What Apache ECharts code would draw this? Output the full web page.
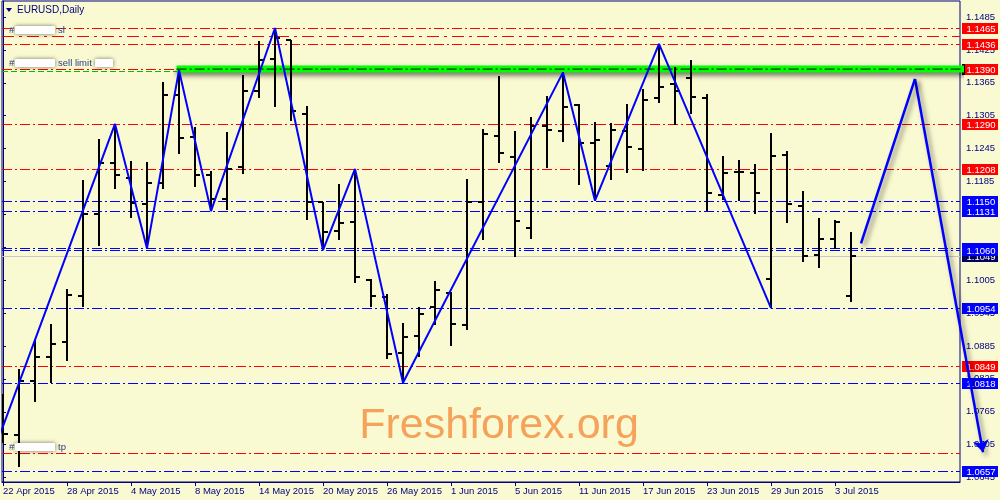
<!DOCTYPE html>
<html><head><meta charset="utf-8">
<script src="https://cdn.jsdelivr.net/npm/echarts@6/dist/echarts.min.js"></script>
<style>html,body{margin:0;padding:0;background:#fafad2}#c{width:1000px;height:500px}</style>
</head><body><div id="c"></div>
<script>
// ---------------- data ----------------
const dates = ['22 Apr 2015','23 Apr 2015','24 Apr 2015','27 Apr 2015','28 Apr 2015','29 Apr 2015','30 Apr 2015',
'1 May 2015','4 May 2015','5 May 2015','6 May 2015','7 May 2015','8 May 2015','11 May 2015','12 May 2015','13 May 2015',
'14 May 2015','15 May 2015','18 May 2015','19 May 2015','20 May 2015','21 May 2015','22 May 2015','25 May 2015','26 May 2015',
'27 May 2015','28 May 2015','29 May 2015','1 Jun 2015','2 Jun 2015','3 Jun 2015','4 Jun 2015','5 Jun 2015','8 Jun 2015',
'9 Jun 2015','10 Jun 2015','11 Jun 2015','12 Jun 2015','15 Jun 2015','16 Jun 2015','17 Jun 2015','18 Jun 2015','19 Jun 2015',
'22 Jun 2015','23 Jun 2015','24 Jun 2015','25 Jun 2015','26 Jun 2015','29 Jun 2015','30 Jun 2015','1 Jul 2015','2 Jul 2015',
'3 Jul 2015','6 Jul 2015'];
const open = [1.0735,1.07232,1.08213,1.08642,1.08914,1.09763,1.11265,1.12185,1.11912,1.11434,1.11828,1.13427,1.12657,1.11961,
1.11525,1.12112,1.13505,1.14092,1.14438,1.13088,1.11476,1.10938,1.11113,1.10053,1.0975,1.08722,1.09041,1.09557,1.09812,1.09241,
1.11476,1.12688,1.12294,1.11004,1.1287,1.12779,1.13246,1.12548,1.12125,1.12779,1.12434,1.13366,1.13627,1.13729,1.13366,1.11598,
1.12021,1.12003,1.10072,1.12325,1.11403,1.10508,1.10804,1.09763];
const high = [1.07982,1.08436,1.08976,1.09254,1.0989,1.1187,1.12628,1.1290,1.12215,1.12203,1.13669,1.1388,1.12851,1.12034,
1.12748,1.13796,1.14414,1.1465,1.14438,1.13228,1.11476,1.11798,1.1208,1.10066,1.09799,1.09267,1.09557,1.10035,1.09841,1.11901,
1.1281,1.13778,1.12779,1.13033,1.13415,1.1384,1.13264,1.12942,1.12919,1.13264,1.13536,1.1436,1.13942,1.14063,1.13446,1.12319,
1.12246,1.12174,1.12737,1.12415,1.11676,1.11193,1.11156,1.1092];
const low = [1.07074,1.06638,1.07831,1.08177,1.08569,1.09563,1.10677,1.1172,1.11193,1.1063,1.1172,1.12355,1.11749,1.1131,
1.11325,1.11992,1.13373,1.13202,1.1296,1.11156,1.1060,1.1078,1.09993,1.09557,1.08613,1.0818,1.08649,1.09236,1.08841,1.09145,
1.1078,1.12185,1.10466,1.10804,1.12094,1.12566,1.11792,1.1150,1.1187,1.1201,1.12034,1.13282,1.12882,1.13082,1.11313,1.1152,
1.11494,1.11265,1.0954,1.11084,1.10386,1.10277,1.10611,1.09659];
const close = [1.07243,1.08213,1.08642,1.08891,1.09781,1.11265,1.12185,1.11961,1.11458,1.11821,1.13427,1.12639,1.11961,1.11525,
1.12083,1.13505,1.14063,1.14474,1.13129,1.11476,1.1092,1.11084,1.10113,1.09768,1.08703,1.09005,1.09441,1.09872,1.09254,1.11476,
1.12719,1.12366,1.11131,1.1287,1.12797,1.13202,1.12548,1.12615,1.12797,1.12475,1.13337,1.13565,1.13493,1.13384,1.1164,1.12003,
1.12015,1.1164,1.12306,1.11434,1.10489,1.10804,1.11107,1.1049];

const priceTicks = [1.1485,1.1425,1.1365,1.1305,1.1245,1.1185,1.1125,1.1065,1.1005,1.0945,1.0885,1.0825,1.0765,1.0705,1.0645];
const dateTickIdx = [0,4,8,12,16,20,24,28,32,36,40,44,48,52];

const zigzagIdx   = [-1, 7, 9, 11, 13, 17, 20, 22, 25, 35, 37, 41, 48];
const zigzagPrice = [1.0660, 1.1290, 1.1063, 1.1388, 1.1131, 1.1465, 1.1060, 1.1208, 1.0818, 1.1384, 1.1150, 1.1436, 1.0954];

const forecastUpIdx = [53.625, 57];
const forecastUpPrice = [1.1072, 1.1372];
const forecastDownIdx = [57, 61.25];
const forecastDownPrice = [1.1372, 1.0691];

const redLevels  = [1.1465, 1.1436, 1.1290, 1.1208, 1.0849];
const blueLevels = [1.1150, 1.1131, 1.1063, 1.1060, 1.0954, 1.0818, 1.0657];
const slLevel = 1.1450;
const tpLevel = 1.0690;
const sellLimitLevel = 1.1390;
const bandStartIdx = 10.85;
const bidPrice = close[close.length - 1];

// ---------------- chart ----------------
const FONT = 'Liberation Sans';
const NAVY = '#000080';
const DASHDOT = [10, 3, 2, 3];
const FS = 9.5;
const chart = echarts.init(document.getElementById('c'));

// level table built from the arrays above
const levelDefs = [];
levelDefs.push({v: bidPrice, color: '#c8c8c8', dash: null, box: '#000060'});
levelDefs.push({v: sellLimitLevel - 0.00027, color: '#00c000', dash: [6, 3], box: null});
levelDefs.push({v: slLevel, color: '#ff0000', dash: [12, 5, 3, 5], box: null});
levelDefs.push({v: tpLevel, color: '#ff0000', dash: DASHDOT, box: null});
redLevels.forEach(v => levelDefs.push({v: v, color: '#ff0000', dash: DASHDOT, box: '#ff0000'}));
blueLevels.forEach(v => levelDefs.push({v: v, color: '#0000ff', dash: DASHDOT, box: '#0000ff'}));
levelDefs.push({v: sellLimitLevel, color: '#ff0000', dash: DASHDOT, box: '#ff0000', marker: '#000000'});

function renderLevel(params, api) {
  const d = levelDefs[params.dataIndex];
  const cs = params.coordSys;
  const yc = api.coord([0, api.value(1)])[1];
  const y = Math.round(yc) + 0.5;
  const children = [{type: 'line', shape: {x1: cs.x, y1: y, x2: cs.x + cs.width, y2: y},
    style: {stroke: d.color, lineWidth: 1, lineDash: d.dash || null}}];
  if (d.box) {
    const bx = cs.x + cs.width + 2, by = Math.round(yc) - 5;
    if (d.marker) {
      children.push({type: 'rect', shape: {x: bx, y: by, width: 3, height: 11}, style: {fill: d.marker}});
      children.push({type: 'rect', shape: {x: bx + 3, y: by, width: 33, height: 11}, style: {fill: d.box}});
    } else {
      children.push({type: 'rect', shape: {x: bx, y: by, width: 36, height: 11}, style: {fill: d.box}});
    }
    children.push({type: 'text', x: bx + 19, y: by + 6,
      style: {text: api.value(1).toFixed(4), fill: '#ffffff', font: FS + 'px ' + FONT, align: 'center', verticalAlign: 'middle'}});
  }
  return {type: 'group', children: children};
}

const option = {
  animation: false,
  backgroundColor: '#fafad2',
  grid: {left: 2, right: 40, top: 1, bottom: 18, show: true, borderColor: NAVY, borderWidth: 1, backgroundColor: 'transparent'},
  xAxis: {
    type: 'value', min: -0.0625, max: 59.8125, position: 'bottom',
    axisLine: {show: true, lineStyle: {color: NAVY, width: 1}},
    splitLine: {show: false},
    axisTick: {show: true, customValues: dateTickIdx, length: 4, lineStyle: {color: NAVY}},
    axisLabel: {show: true, customValues: dateTickIdx, formatter: v => dates[Math.round(v)] || '',
      align: 'left', color: NAVY, fontSize: FS, fontFamily: FONT, margin: 4}
  },
  yAxis: {
    type: 'value', position: 'right', min: 1.06369, max: 1.15142,
    axisLine: {show: true, lineStyle: {color: NAVY, width: 1}},
    splitLine: {show: false},
    axisTick: {show: true, customValues: priceTicks, length: 3, lineStyle: {color: NAVY}},
    axisLabel: {show: true, customValues: priceTicks, formatter: v => v.toFixed(4), color: NAVY, fontSize: FS, fontFamily: FONT, margin: 6,
      showMinLabel: true, showMaxLabel: true}
  },
  series: [
    {type: 'custom', name: 'levels', z: 1, clip: false, silent: true,
      data: levelDefs.map(d => [0, d.v]), encode: {x: 0, y: 1}, renderItem: renderLevel},
    {type: 'line', name: 'band', z: 2, symbol: 'none', clip: true, silent: true,
      data: [[bandStartIdx, sellLimitLevel], [62, sellLimitLevel]],
      lineStyle: {color: '#00ff00', width: 7, cap: 'butt', shadowColor: 'rgba(0,0,0,0.55)', shadowBlur: 5, shadowOffsetY: 3}},
    {type: 'line', name: 'bandline', z: 2, symbol: 'none', clip: true, silent: true,
      data: [[bandStartIdx, sellLimitLevel], [62, sellLimitLevel]],
      lineStyle: {color: '#000000', width: 1, type: DASHDOT}},
    {type: 'custom', name: 'bars', z: 3, clip: true, silent: true,
      data: dates.map((d, i) => [i, open[i], high[i], low[i], close[i]]),
      encode: {x: 0, y: [1, 2, 3, 4]},
      renderItem: function (params, api) {
        const i = api.value(0);
        const x = Math.round(api.coord([i, api.value(1)])[0]);
        const yo = Math.round(api.coord([i, api.value(1)])[1]);
        const yh = Math.round(api.coord([i, api.value(2)])[1]);
        const yl = Math.round(api.coord([i, api.value(3)])[1]);
        const yc = Math.round(api.coord([i, api.value(4)])[1]);
        return {type: 'group', children: [
          {type: 'rect', shape: {x: x - 1, y: yh, width: 2, height: Math.max(1, yl - yh)}, style: {fill: '#000'}},
          {type: 'rect', shape: {x: x - 5, y: yo - 1, width: 5, height: 2}, style: {fill: '#000'}},
          {type: 'rect', shape: {x: x, y: yc - 1, width: 5, height: 2}, style: {fill: '#000'}}
        ]};
      }},
    {type: 'line', name: 'zigzag', z: 4, symbol: 'none', clip: true, silent: true,
      data: zigzagIdx.map((x, k) => [x, zigzagPrice[k]]),
      lineStyle: {color: '#0000ff', width: 2}},
    {type: 'line', name: 'forecastUp', z: 5, symbol: 'none', clip: false, silent: true,
      data: forecastUpIdx.map((x, k) => [x, forecastUpPrice[k]]),
      lineStyle: {color: '#0000ff', width: 2.5, shadowColor: 'rgba(0,0,0,0.5)', shadowBlur: 5, shadowOffsetX: 3, shadowOffsetY: 3}},
    {type: 'lines', name: 'forecastDown', coordinateSystem: 'cartesian2d', z: 5, clip: false, silent: true,
      symbol: ['none', 'arrow'], symbolSize: 12,
      data: [{coords: forecastDownIdx.map((x, k) => [x, forecastDownPrice[k]])}],
      lineStyle: {color: '#0000ff', width: 2.5, opacity: 1, curveness: 0, shadowColor: 'rgba(0,0,0,0.5)', shadowBlur: 5, shadowOffsetX: 3, shadowOffsetY: 3}}
  ]
};
chart.setOption(option);

// annotations positioned from the price scale
const yAt = p => chart.convertToPixel({yAxisIndex: 0}, p);
const ANN = '#283c8c';
function orderLabel(price, words, extraBox) {
  const y = Math.round(yAt(price)) - 6;
  const els = [
    {type: 'text', x: 9, y: y, z: 20, style: {text: '#', fill: ANN, font: FS + 'px ' + FONT, textVerticalAlign: 'middle'}},
    {type: 'rect', z: 20, shape: {x: 15, y: y - 4, width: 40, height: 8, r: 1},
      style: {fill: '#ffffff', shadowColor: 'rgba(0,0,0,0.55)', shadowBlur: 4}},
    {type: 'text', x: 58, y: y, z: 20, style: {text: words, fill: ANN, font: FS + 'px ' + FONT, textVerticalAlign: 'middle'}}
  ];
  if (extraBox) {
    els.push({type: 'rect', z: 20, shape: {x: 95, y: y - 4, width: 18, height: 8, r: 1},
      style: {fill: '#ffffff', shadowColor: 'rgba(0,0,0,0.55)', shadowBlur: 4}});
  }
  return els;
}
chart.setOption({graphic: [
  {type: 'polygon', z: 20, shape: {points: [[6, 8], [12, 8], [9, 12]]}, style: {fill: NAVY}},
  {type: 'text', x: 17, y: 10, z: 20, style: {text: 'EURUSD,Daily', fill: NAVY, font: '10px ' + FONT, textVerticalAlign: 'middle'}},
  {type: 'text', x: 499, y: 426, z: 20,
    style: {text: 'Freshforex.org', fill: '#f5a25a', font: '43px ' + FONT, textAlign: 'center', textVerticalAlign: 'middle'}}
].concat(orderLabel(slLevel, 'sl'), orderLabel(sellLimitLevel, 'sell limit', true), orderLabel(tpLevel, 'tp'))});
</script>
</body></html>
